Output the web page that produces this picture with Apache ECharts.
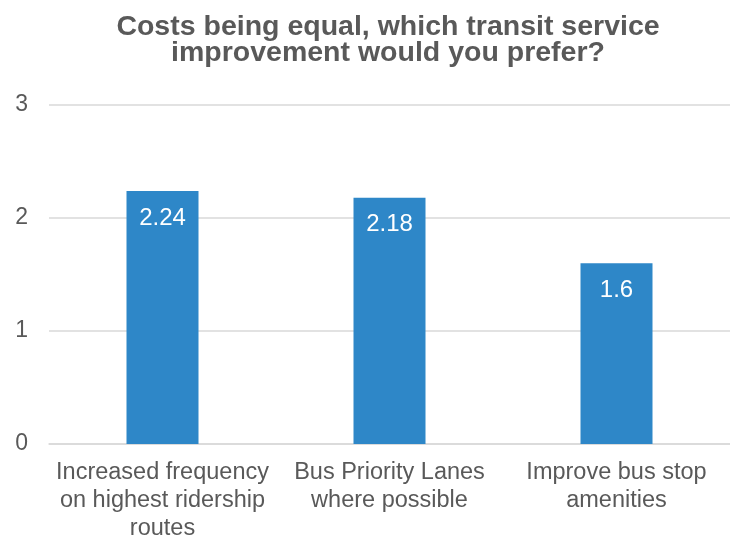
<!DOCTYPE html>
<html>
<head>
<meta charset="utf-8">
<script src="https://cdn.jsdelivr.net/npm/echarts@6/dist/echarts.min.js"></script>
<style>
  html, body { margin: 0; padding: 0; background: #fff; }
  #chart { width: 730px; height: 543px; }
</style>
</head>
<body>
<div id="chart"></div>
<script>
// categories and values
const categories = [
  'Increased frequency\non highest ridership\nroutes',
  'Bus Priority Lanes\nwhere possible',
  'Improve bus stop\namenities'
]
const scores = [2.24, 2.18, 1.6]
const yTicks = { min: 0, max: 3, interval: 1 }

const chart = echarts.init(document.getElementById('chart'))

const options = {
  animation: false,
  textStyle: { fontFamily: 'Liberation Sans, Arial, sans-serif' },
  title: {
    text: 'Costs being equal, which transit service\nimprovement would you prefer?',
    left: 383,
    top: 9,
    textAlign: 'center',
    textStyle: {
      fontSize: 28.5,
      fontWeight: 'bold',
      color: '#595959',
      lineHeight: 26
    }
  },
  grid: {
    left: 49,
    top: 105,
    width: 687,
    bottom: 96,
    containLabel: false
  },
  xAxis: {
    type: 'category',
    data: categories,
    axisTick: { show: false },
    axisLine: { lineStyle: { color: '#d9d9d9', width: 1.5 } },
    axisLabel: {
      color: '#595959',
      fontSize: 23.5,
      lineHeight: 28,
      margin: 15,
      interval: 0
    }
  },
  yAxis: {
    type: 'value',
    min: yTicks.min,
    max: yTicks.max,
    interval: yTicks.interval,
    axisLine: { show: false },
    axisTick: { show: false },
    splitLine: { lineStyle: { color: '#d9d9d9', width: 1.5 } },
    axisLabel: {
      color: '#595959',
      fontSize: 23,
      margin: 21
    }
  },
  series: [{
    type: 'bar',
    data: scores,
    barWidth: 72,
    itemStyle: { color: '#2e87c8' },
    label: {
      show: true,
      position: 'insideTop',
      distance: 15,
      color: '#fff',
      fontSize: 24
    }
  }]
}

chart.setOption(options)
</script>
</body>
</html>
